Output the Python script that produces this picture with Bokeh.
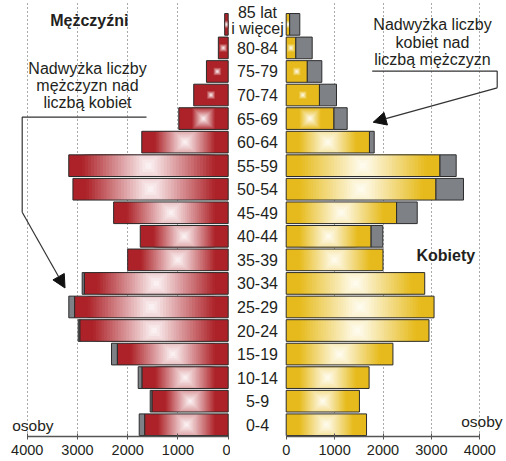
from bokeh.plotting import figure
from bokeh.models import Range1d, FixedTicker, Label, Arrow, NormalHead
from bokeh.layouts import row
from bokeh.embed import file_html
from bokeh.resources import INLINE
from bokeh.core.properties import value

# ---------------- data ----------------
ages = ["0-4", "5-9", "10-14", "15-19", "20-24", "25-29", "30-34", "35-39",
        "40-44", "45-49", "50-54", "55-59", "60-64", "65-69", "70-74",
        "75-79", "80-84", "85 lat\ni więcej"]
men = [1771, 1552, 1791, 2322, 2985, 3172, 2906, 2000, 1750, 2280,
       3090, 3173, 1720, 983, 686, 433, 196, 70]
women = [1660, 1513, 1713, 2205, 2950, 3055, 2862, 2000, 1996, 2707,
         3663, 3512, 1818, 1260, 1039, 736, 537, 281]
ticks = [0, 1000, 2000, 3000, 4000]
grid_ticks = [1000, 2000, 3000, 4000]

# ---------------- style / layout ----------------
FONT = "Liberation Sans"
TXT = "#231f20"
RED = (172, 34, 40)
RED_C = (253, 245, 246)
YEL = (230, 186, 28)
YEL_C = (255, 253, 242)
GREY = "#7e8287"
OUTLINE = "#2b2b2b"

ORIGIN = 0
ZERO_L, PX_L = 227.7, 50.25 / 1000.0
ZERO_R, PX_R = 285.7, 48.4 / 1000.0
AX_Y, ROW_PX = 436.0, 23.55
SPLIT = 230
RIGHT_EDGE = 506
H = 461
BOT = 25
BAR_H = 0.92
N = 22
LAB_SHIFT = 4.0


def lx(px):
    return (ZERO_L - px) / PX_L


def rx(px):
    return (px - ZERO_R) / PX_R


def yy(py):
    return (AX_Y - py) / ROW_PX - 0.5


def hexc(c):
    return "#%02x%02x%02x" % tuple(int(round(v)) for v in c)


def lerp(a, b, t):
    return tuple(a[i] + (b[i] - a[i]) * t for i in range(3))


def make_fig(width, xr):
    p = figure(width=width, height=H, x_range=xr, y_range=Range1d(-0.5, yy(ORIGIN)),
               output_backend="svg", toolbar_location=None,
               x_axis_location="below", y_axis_location=None,
               min_border_left=0, min_border_right=0, min_border_top=0,
               min_border_bottom=BOT)
    p.outline_line_color = None
    p.background_fill_color = "white"
    p.border_fill_color = "white"
    ax = p.xaxis[0]
    ax.ticker = FixedTicker(ticks=ticks)
    ax.bounds = (0, 4000)
    ax.axis_line_color = "#555555"
    ax.axis_line_width = 1.5
    ax.major_tick_line_color = "#555555"
    ax.major_tick_in = 3
    ax.major_tick_out = 3
    ax.minor_tick_line_color = None
    ax.major_label_standoff = 5
    ax.major_label_text_font = FONT
    ax.major_label_text_font_size = "14.5px"
    ax.major_label_text_color = TXT
    p.ygrid.visible = False
    p.xgrid.ticker = FixedTicker(ticks=grid_ticks)
    p.xgrid.grid_line_color = "#555555"
    p.xgrid.grid_line_dash = "1 3"
    p.xgrid.grid_line_width = 1
    return p


def draw_side(p, own, other, pxu, edge, centre):
    ys = list(range(len(own)))
    lo = [min(a, b) for a, b in zip(own, other)]
    # surplus (grey)
    gi = [i for i in ys if own[i] > other[i]]
    p.quad(left=[lo[i] for i in gi], right=[own[i] for i in gi],
           bottom=[i - BAR_H / 2 for i in gi], top=[i + BAR_H / 2 for i in gi],
           fill_color=GREY, line_color=OUTLINE, line_width=1)
    # base coloured bar
    p.quad(left=[0] * len(lo), right=lo,
           bottom=[i - BAR_H / 2 for i in ys], top=[i + BAR_H / 2 for i in ys],
           fill_color=hexc(edge), line_color=None)
    # square fountain gradient
    gx, gy, gw, gh, gc = [], [], [], [], []
    hh = BAR_H * ROW_PX / 2.0
    for i, v in enumerate(lo):
        hw = v / 2.0 * pxu
        r = max(hw - 13.0, 4.0)
        for k in range(N):
            s = r * (1.0 - k / N)
            t = (k + 0.5) / N
            gx.append(v / 2.0)
            gy.append(i)
            gw.append(2 * min(s, hw) / pxu)
            gh.append(2 * min(s, hh) / ROW_PX)
            gc.append(hexc(lerp(edge, centre, t)))
    p.rect(x=gx, y=gy, width=gw, height=gh, fill_color=gc, line_color=None)
    # outline
    p.quad(left=[0] * len(lo), right=lo,
           bottom=[i - BAR_H / 2 for i in ys], top=[i + BAR_H / 2 for i in ys],
           fill_color=None, line_color=OUTLINE, line_width=1)


def lab(p, x, py, text, size, align="center", bold=False):
    p.add_layout(Label(x=x, y=yy(py - LAB_SHIFT), text=text, text_font=FONT,
                       text_font_size=size, text_color=TXT, text_align=align,
                       text_baseline="alphabetic",
                       text_font_style="bold" if bold else "normal"))


# ---------------- left: men ----------------
pl = make_fig(SPLIT - ORIGIN, Range1d(lx(ORIGIN), lx(SPLIT)))
draw_side(pl, men, women, PX_L, RED, RED_C)
lab(pl, lx(88.8), 23.5, "Mężczyźni", "16px", bold=True)
for txt, by in zip(["Nadwyżka liczby", "mężczyzn nad", "liczbą kobiet"], [71.7, 89.0, 106.3]):
    lab(pl, lx(87.0), by, txt, "16px")
lab(pl, lx(11.7), 428.5, "osoby", "15.5px", align="left")
pl.line(x=[lx(146), lx(21.7), lx(21.7)], y=[yy(116.7), yy(116.7), yy(211.7)],
        line_color="#333333", line_width=1.2)
pl.add_layout(Arrow(end=NormalHead(size=13, fill_color="#111111", line_color="#111111"),
                    x_start=lx(21.7), y_start=yy(211.7), x_end=lx(64.5), y_end=yy(287.5),
                    line_color="#333333", line_width=1.2))

# ---------------- right: women ----------------
pr = make_fig(RIGHT_EDGE - SPLIT, Range1d(rx(SPLIT), rx(RIGHT_EDGE)))
draw_side(pr, women, men, PX_R, YEL, YEL_C)
age_offsets = [0] * (len(ages) - 1) + [-4]
pr.text(x=[rx(257)] * len(ages), y=list(range(len(ages))), text=ages,
        y_offset=age_offsets,
        text_font=value(FONT), text_font_size="16px", text_color=TXT,
        text_align="center", text_baseline="middle", text_line_height=0.9)
lab(pr, rx(445.3), 258.5, "Kobiety", "16px", bold=True)
for txt, by in zip(["Nadwyżka liczby", "kobiet nad", "liczbą mężczyzn"], [28.3, 45.7, 63.3]):
    lab(pr, rx(432.0), by, txt, "16px")
lab(pr, rx(502), 424.5, "osoby", "15.5px", align="right")
pr.line(x=[rx(371.7), rx(496.7), rx(496.7)], y=[yy(70.7), yy(70.7), yy(87.3)],
        line_color="#333333", line_width=1.2)
pr.add_layout(Arrow(end=NormalHead(size=13, fill_color="#111111", line_color="#111111"),
                    x_start=rx(496.7), y_start=yy(87.3), x_end=rx(372.7), y_end=yy(121.7),
                    line_color="#333333", line_width=1.2))

layout = row(pl, pr, spacing=0)
open("out.html", "w").write(file_html(layout, INLINE))
